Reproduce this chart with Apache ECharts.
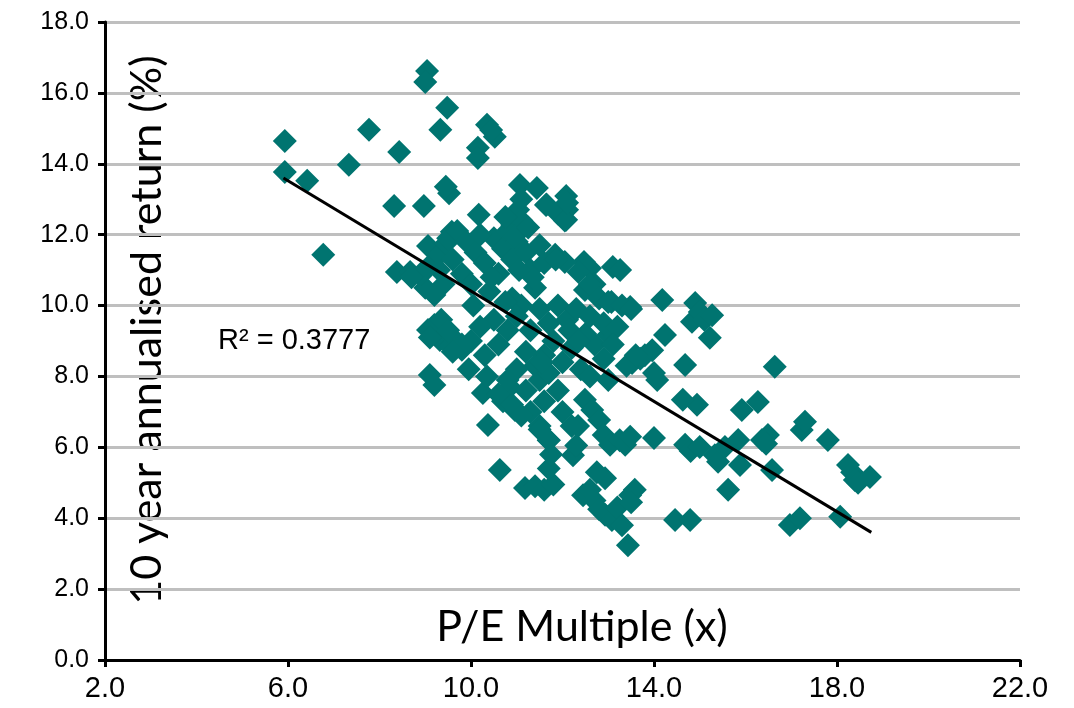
<!DOCTYPE html>
<html>
<head>
<meta charset="utf-8">
<script src="https://cdn.jsdelivr.net/npm/echarts@6/dist/echarts.min.js"></script>
<style>html,body{margin:0;padding:0;background:#fff;}#c{width:1074px;height:708px;}</style>
</head>
<body>
<div id="c"></div>
<script>
// P/E multiple (x) values
const peValues = [
  5.93,5.93,6.42,6.77,7.33,7.77,8.43,8.32,8.38,8.97,9.04,9.0,9.48,9.33,9.52,9.45,10.15,10.15,10.35,10.52,10.44,
  9.06,9.58,10.17,11.07,11.44,11.64,12.08,12.1,12.08,11.03,10.9,
  8.67,8.9,9.15,9.3,9.45,9.06,9.2,9.32,9.55,9.8,9.1,9.2,9.35,9.6,
  10.37,10.26,10.63,11.18,11.4,11.6,11.8,11.7,11.75,11.7,11.5,10.96,10.7,10.85,
  12.23,12.3,12.34,12.49,12.65,12.8,12.9,13.04,13.25,13.37,13.48,
  12.45,12.6,12.7,12.8,12.93,13.08,13.2,13.3,13.43,13.48,13.58,13.5,12.93,12.75,
  13.52,13.7,13.8,13.96,14.07,14.0,14.0,14.18,14.24,14.46,14.79,14.68,14.8,14.94,14.63,14.68,14.83,14.9,15.0,15.1,15.27,15.22,
  15.0,15.33,15.4,15.55,15.62,15.88,15.84,15.92,16.27,16.36,16.49,16.58,16.64,16.45,16.97,17.19,17.23,17.3,17.8,18.07,18.24,18.33,18.39,18.46,18.72,
  12.47,12.6,12.35,13.1,13.26,13.0,13.48,13.07,12.49,12.7,11.84,12.05,
  9.5,9.7,9.9,10.1,9.6,9.8,10.0,10.3,10.5,10.4,9.4,9.2,9.0,9.3,10.2,10.7,10.6,10.9,10.8,11.0,11.1,11.2,11.3,11.4,11.5,11.6,10.9,11.1,
  10.5,10.2,10.0,9.8,9.6,9.5,10.3,10.6,10.8,11.0,11.3,11.5,11.7,11.9,12.1,12.3,11.8,11.6,11.4,11.2,11.0,10.8,10.6,10.9,11.2,11.5,11.7,12.0,12.2,12.5,12.7,12.4,11.9,11.6,11.3,11.1,11.5,11.7,12.0,12.2,
  11.9,12.05,12.1,11.65,11.1,10.75,10.95,11.25,
  12.6,12.8,13.0,13.3,13.5,12.9,13.2,12.6,13.1,12.9,12.6,13.0,13.4,13.6,
  8.9,8.7,9.1,10.05,10.45,10.75,11.35,11.05,10.35,9.95,11.55,12.15,12.35,11.85
];
// 10 year annualised return (%) values
const returnValues = [
  14.64,13.77,13.52,11.43,13.97,14.96,14.33,12.81,10.95,12.81,16.62,16.31,15.58,14.96,13.17,13.35,14.45,14.16,15.1,14.76,14.95,
  11.68,12.08,12.56,13.4,13.32,12.84,13.09,12.7,12.42,12.7,12.27,
  10.95,10.85,11.2,11.45,11.75,9.31,9.45,9.03,8.85,8.75,8.04,7.76,9.6,9.1,
  6.63,7.53,5.36,4.85,4.9,4.8,4.95,5.4,5.8,6.2,6.6,7.05,7.3,7.7,
  5.78,6.05,6.6,7.34,7.05,6.77,6.35,6.07,6.2,6.07,6.3,
  4.65,4.8,4.5,4.25,4.1,3.95,4.3,3.8,3.24,4.65,4.8,4.45,5.13,5.3,
  8.38,8.5,8.6,8.74,7.9,8.1,6.26,10.16,9.17,3.95,3.95,6.07,5.9,7.2,7.34,8.32,9.54,10.07,9.82,9.6,9.73,9.09,
  6.01,5.78,5.59,6.01,4.8,5.5,6.21,7.05,7.28,6.21,6.35,5.36,8.27,6.1,3.81,4.0,6.49,6.72,6.21,4.04,5.5,5.3,5.08,5.0,5.16,
  11.23,11.05,10.95,11.09,11.0,9.17,9.96,10.1,10.44,10.6,11.43,11.23,
  11.9,12.1,11.8,11.5,11.3,10.9,10.6,11.2,11.9,10.4,10.6,10.3,10.5,11.0,12.0,11.6,10.9,11.3,12.1,11.8,12.4,11.5,11.0,10.5,11.7,11.2,10.2,10.0,
  9.6,9.4,9.0,8.9,8.7,9.3,8.6,8.9,9.3,9.7,9.3,9.9,9.5,10.0,9.6,9.9,9.0,8.6,8.3,8.7,8.2,7.9,7.5,7.2,7.6,7.9,8.1,8.4,8.8,9.2,8.9,8.2,7.6,7.3,7.0,6.9,6.5,6.2,7.0,6.6,
  12.6,12.4,12.9,12.85,13.0,12.5,11.95,12.2,
  10.6,10.2,10.1,10.0,9.9,9.5,9.4,9.7,8.9,8.5,8.0,7.9,8.3,8.6,
  10.9,10.8,9.1,10.0,10.8,10.1,10.8,11.0,8.0,8.2,8.4,9.3,9.0,11.3
];
// Linear trendline endpoints
const trendX = [5.9, 18.75];
const trendY = [13.6, 3.6];
const rSquaredLabel = 'R² = 0.3777';
const xTicks = [2, 6, 10, 14, 18, 22];
const yTicks = [0, 2, 4, 6, 8, 10, 12, 14, 16, 18];

const points = peValues.map((x, i) => [x, returnValues[i]]);
const trend = trendX.map((x, i) => [x, trendY[i]]);

const chart = echarts.init(document.getElementById('c'), null, {renderer: 'canvas'});
chart.setOption({
  animation: false,
  backgroundColor: '#fff',
  grid: {left: 105, right: 54, top: 22, bottom: 48},
  xAxis: {
    type: 'value', min: xTicks[0], max: xTicks[xTicks.length - 1], interval: 4,
    axisLine: {show: true, onZero: false, lineStyle: {color: '#000', width: 3}},
    axisTick: {show: true, length: 7, lineStyle: {color: '#000', width: 3}},
    axisLabel: {margin: 14, fontFamily: 'Arial', fontSize: 29, color: '#000', formatter: v => v.toFixed(1)},
    splitLine: {show: false}
  },
  yAxis: {
    type: 'value', min: yTicks[0], max: yTicks[yTicks.length - 1], interval: 2,
    axisLine: {show: true, lineStyle: {color: '#000', width: 3}},
    axisTick: {show: true, length: 7, lineStyle: {color: '#000', width: 3}},
    axisLabel: {margin: 16, fontFamily: 'Arial', fontSize: 25, color: '#000', formatter: v => v.toFixed(1)},
    splitLine: {show: true, lineStyle: {color: '#BFBFBF', width: 3}}
  },
  graphic: [
    {type: 'text', left: 218, top: 326, style: {text: rSquaredLabel, font: '29px Arial, sans-serif', fill: '#000'}},
    {type: 'text', x: 582, y: 627, style: {text: 'P/E Multiple (x)', font: '43px Lato, "Open Sans", sans-serif', fill: '#000', textAlign: 'center', textVerticalAlign: 'middle'}},
    {type: 'text', x: 147, y: 330, rotation: Math.PI / 2, style: {text: '10 year annualised return (%)', font: '43px Lato, "Open Sans", sans-serif', fill: '#000', textAlign: 'center', textVerticalAlign: 'middle'}}
  ],
  series: [
    {
      type: 'scatter', data: points, symbol: 'diamond', symbolSize: 24,
      itemStyle: {color: '#007470', opacity: 1}, z: 2
    },
    {
      type: 'line', data: trend, symbol: 'none', z: 3,
      lineStyle: {color: '#000', width: 3}
    }
  ]
});
</script>
</body>
</html>
